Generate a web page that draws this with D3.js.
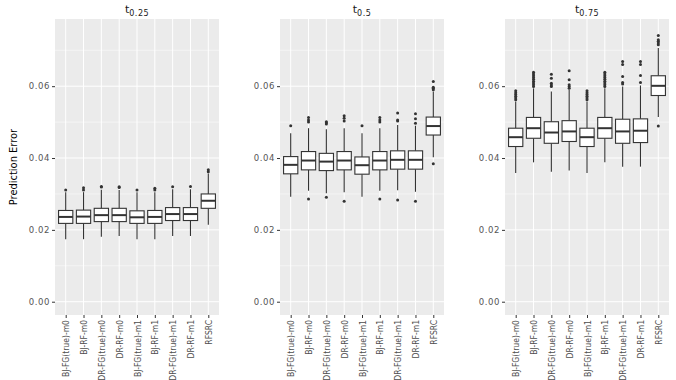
<!DOCTYPE html>
<html>
<head>
<meta charset="utf-8">
<script src="https://cdn.jsdelivr.net/npm/d3@7"></script>
<style>
  body { margin: 0; background: #fff; }
  svg { display: block; }
  .narrow { font-family: "Liberation Sans Narrow", "DejaVu Sans Condensed", "Liberation Sans", sans-serif; font-stretch: condensed; }
</style>
</head>
<body>
<svg id="chart" width="676" height="380"></svg>
<script>
var categories = ['BJ-FG(true)-m0', 'BJ-RF-m0', 'DR-FG(true)-m0', 'DR-RF-m0',
                  'BJ-FG(true)-m1', 'BJ-RF-m1', 'DR-FG(true)-m1', 'DR-RF-m1', 'RFSRC'];
var panelLabels = ['0.25', '0.5', '0.75'];
var yTicks = [0, 0.02, 0.04, 0.06];
var yMinor = [0.01, 0.03, 0.05, 0.07];

// [lower whisker, q1, median, q3, upper whisker]
var stats025 = [
  [0.0174, 0.0218, 0.0236, 0.0254, 0.0305],
  [0.0174, 0.0218, 0.0237, 0.0255, 0.0305],
  [0.0181, 0.0223, 0.0241, 0.0260, 0.0312],
  [0.0183, 0.0223, 0.0241, 0.0260, 0.0311],
  [0.0174, 0.0218, 0.0235, 0.0253, 0.0305],
  [0.0174, 0.0218, 0.0236, 0.0254, 0.0305],
  [0.0183, 0.0226, 0.0244, 0.0262, 0.0313],
  [0.0183, 0.0226, 0.0244, 0.0262, 0.0313],
  [0.0214, 0.0260, 0.0281, 0.0300, 0.0357]
];
var outliers025 = [
  [0.0311], [0.0311, 0.0317], [0.0319, 0.0321], [0.0318, 0.0320], [0.0311],
  [0.0311, 0.0316], [0.0320], [0.0321], [0.0362, 0.0367]
];

var stats05 = [
  [0.0292, 0.0356, 0.0381, 0.0404, 0.0469],
  [0.0309, 0.0367, 0.0393, 0.0418, 0.0483],
  [0.0302, 0.0365, 0.0390, 0.0413, 0.0480],
  [0.0305, 0.0367, 0.0393, 0.0418, 0.0483],
  [0.0292, 0.0355, 0.0380, 0.0403, 0.0469],
  [0.0309, 0.0367, 0.0393, 0.0418, 0.0483],
  [0.0310, 0.0369, 0.0395, 0.0420, 0.0492],
  [0.0306, 0.0369, 0.0395, 0.0420, 0.0490],
  [0.0402, 0.0464, 0.0489, 0.0514, 0.0585]
];
var outliers05 = [
  [0.0490],
  [0.0286, 0.0500, 0.0506, 0.0513],
  [0.0291, 0.0495, 0.0498, 0.0501],
  [0.0280, 0.0503, 0.0511, 0.0518],
  [0.0490],
  [0.0286, 0.0500, 0.0506, 0.0513],
  [0.0283, 0.0503, 0.0506, 0.0525],
  [0.0280, 0.0497, 0.0509, 0.0523],
  [0.0384, 0.0590, 0.0594, 0.0597, 0.0613]
];

var stats075 = [
  [0.0358, 0.0432, 0.0458, 0.0483, 0.0557],
  [0.0388, 0.0455, 0.0483, 0.0513, 0.0594],
  [0.0362, 0.0441, 0.0471, 0.0501, 0.0585],
  [0.0365, 0.0446, 0.0474, 0.0504, 0.0590],
  [0.0358, 0.0432, 0.0458, 0.0483, 0.0557],
  [0.0388, 0.0455, 0.0483, 0.0513, 0.0594],
  [0.0376, 0.0441, 0.0474, 0.0508, 0.0599],
  [0.0376, 0.0443, 0.0476, 0.0509, 0.0602],
  [0.0514, 0.0574, 0.0601, 0.0629, 0.0706]
];
var outliers075 = [
  [0.0562, 0.0567, 0.0572, 0.0577, 0.0582, 0.0587],
  [0.0599, 0.0604, 0.0609, 0.0614, 0.0619, 0.0624, 0.0629, 0.0634, 0.0639],
  [0.0599, 0.0603, 0.0608, 0.0622, 0.0633],
  [0.0594, 0.0599, 0.0604, 0.0618, 0.0643],
  [0.0562, 0.0567, 0.0572, 0.0577, 0.0582, 0.0587],
  [0.0599, 0.0604, 0.0609, 0.0614, 0.0619, 0.0624, 0.0629, 0.0634, 0.0639],
  [0.0606, 0.0610, 0.0627, 0.0660, 0.0669],
  [0.0610, 0.0630, 0.0660, 0.0669],
  [0.0489, 0.0715, 0.0720, 0.0725, 0.0729, 0.0741]
];

var panelStats = [stats025, stats05, stats075];
var panelOutliers = [outliers025, outliers05, outliers075];

var svg = d3.select('#chart');
var panelLeft = [55, 280, 505],
    panelWidth = 164,
    plotTop = 19, plotBottom = 315;

var yScale = d3.scaleLinear()
               .domain([-0.0037, 0.0787])
               .range([plotBottom, plotTop]);

// y-axis title
svg.append('text')
   .attr('class', 'narrow')
   .attr('transform', 'translate(17,' + ((plotTop + plotBottom) / 2) + ') rotate(-90)')
   .attr('text-anchor', 'middle')
   .attr('font-size', 11)
   .attr('fill', '#000')
   .text('Prediction Error');

panelLabels.forEach(function(lab, p) {
  var x0 = panelLeft[p];
  var g = svg.append('g');

  var xScale = d3.scalePoint()
                 .domain(categories)
                 .range([x0, x0 + panelWidth])
                 .padding(0.6);
  var step = xScale.step();
  var boxW = step * 0.8;

  // panel background
  g.append('rect')
   .attr('x', x0).attr('y', plotTop)
   .attr('width', panelWidth).attr('height', plotBottom - plotTop)
   .attr('fill', '#ebebeb');

  // grid
  g.selectAll('.minor').data(yMinor).enter().append('line')
   .attr('x1', x0).attr('x2', x0 + panelWidth)
   .attr('y1', function(d){ return yScale(d); })
   .attr('y2', function(d){ return yScale(d); })
   .attr('stroke', '#fff').attr('stroke-width', 0.5);
  g.selectAll('.major').data(yTicks).enter().append('line')
   .attr('x1', x0).attr('x2', x0 + panelWidth)
   .attr('y1', function(d){ return yScale(d); })
   .attr('y2', function(d){ return yScale(d); })
   .attr('stroke', '#fff').attr('stroke-width', 1);
  g.selectAll('.vmajor').data(categories).enter().append('line')
   .attr('x1', function(d){ return xScale(d); })
   .attr('x2', function(d){ return xScale(d); })
   .attr('y1', plotTop).attr('y2', plotBottom)
   .attr('stroke', '#fff').attr('stroke-width', 1);

  // axes
  var yAxis = d3.axisLeft(yScale)
                .tickValues(yTicks)
                .tickFormat(d3.format('.2f'))
                .tickSize(3).tickPadding(2);
  var ya = g.append('g')
            .attr('transform', 'translate(' + x0 + ',0)')
            .call(yAxis);
  ya.select('.domain').remove();
  ya.selectAll('line').attr('stroke', '#333');
  ya.selectAll('text').attr('fill', '#555')
    .attr('font-family', '"DejaVu Sans", sans-serif').attr('font-size', 8.5)
    .attr('letter-spacing', 0.6);

  var xAxis = d3.axisBottom(xScale).tickSize(3).tickPadding(2);
  var xa = g.append('g')
            .attr('transform', 'translate(0,' + plotBottom + ')')
            .call(xAxis);
  xa.select('.domain').remove();
  xa.selectAll('line').attr('stroke', '#333');
  xa.selectAll('text')
    .attr('class', 'narrow')
    .attr('fill', '#4d4d4d')
    .attr('font-size', 8.5)
    .attr('text-anchor', 'end')
    .attr('dy', null)
    .attr('transform', 'translate(0,5) rotate(-90)')
    .attr('x', 0).attr('y', 0)
    .attr('dominant-baseline', 'central');

  // boxes
  var stats = panelStats[p], outs = panelOutliers[p];
  categories.forEach(function(c, i) {
    var s = stats[i], cx = xScale(c);
    var bg = g.append('g');
    bg.append('line')
      .attr('x1', cx).attr('x2', cx)
      .attr('y1', yScale(s[0])).attr('y2', yScale(s[1]))
      .attr('stroke', '#333').attr('stroke-width', 1.1);
    bg.append('line')
      .attr('x1', cx).attr('x2', cx)
      .attr('y1', yScale(s[3])).attr('y2', yScale(s[4]))
      .attr('stroke', '#333').attr('stroke-width', 1.1);
    bg.append('rect')
      .attr('x', cx - boxW / 2).attr('width', boxW)
      .attr('y', yScale(s[3])).attr('height', yScale(s[1]) - yScale(s[3]))
      .attr('fill', '#fff').attr('stroke', '#333').attr('stroke-width', 1.1);
    bg.append('line')
      .attr('x1', cx - boxW / 2).attr('x2', cx + boxW / 2)
      .attr('y1', yScale(s[2])).attr('y2', yScale(s[2]))
      .attr('stroke', '#333').attr('stroke-width', 2);
    bg.selectAll('circle').data(outs[i]).enter().append('circle')
      .attr('cx', cx).attr('cy', function(d){ return yScale(d); })
      .attr('r', 1.5).attr('fill', '#333');
  });

  // facet title: t with subscript
  var title = svg.append('text')
     .attr('x', x0 + panelWidth / 2).attr('y', 13)
     .attr('text-anchor', 'middle')
     .attr('font-family', '"DejaVu Sans", sans-serif')
     .attr('fill', '#1a1a1a');
  title.append('tspan').attr('font-size', 11).text('t');
  title.append('tspan').attr('font-size', 8).attr('dy', 2.5)
       .attr('letter-spacing', 0.5).text(lab);
});
</script>
</body>
</html>
